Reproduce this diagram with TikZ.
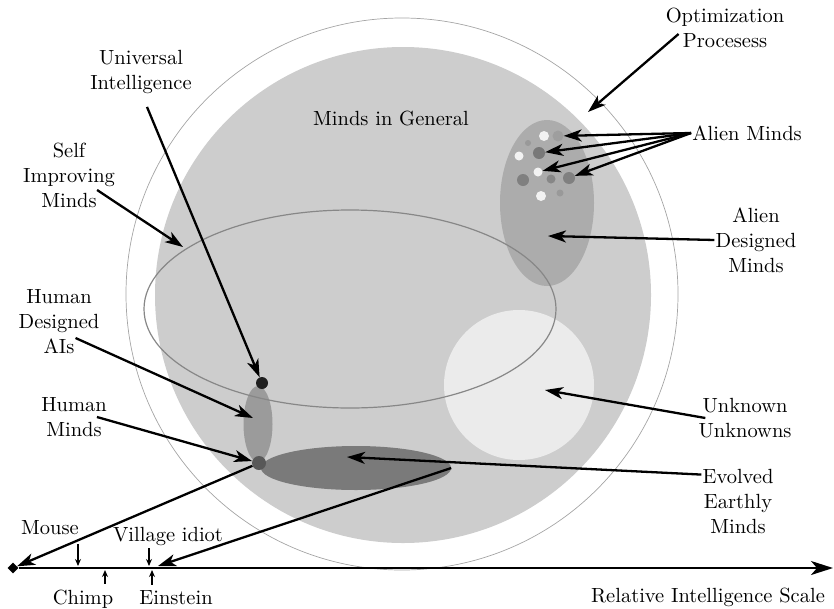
\documentclass[tikz,border=0pt]{standalone}
\usepackage{fontspec}
\setmainfont{lmroman10-regular}[Extension=.otf]
\usepackage{xcolor}
\usepackage{tikz}
\usetikzlibrary{shapes.geometric,arrows.meta,positioning}

\definecolor{ringgray}{RGB}{165,165,165}
\definecolor{diskgray}{RGB}{205,205,205}
\definecolor{aliengray}{RGB}{172,172,172}
\definecolor{unkgray}{RGB}{235,235,235}
\definecolor{aigray}{RGB}{155,155,155}
\definecolor{evogray}{RGB}{122,122,122}
\definecolor{humangray}{RGB}{88,88,88}
\definecolor{selfgray}{RGB}{135,135,135}
\definecolor{spotwhite}{RGB}{242,242,242}

\begin{document}
\begin{tikzpicture}[
    x=1pt, y=-1pt,
    txt/.style={align=center, inner sep=1pt, font=\fontsize{20.5}{25}\selectfont},
    blob/.style={ellipse, inner sep=0pt},
    spot/.style={circle, inner sep=0pt},
    arrow/.style={line width=2.3pt,->,>={Stealth[length=18pt,width=12pt,inset=5pt]}},
    smallarrow/.style={line width=1.4pt,->,>={Stealth[length=7pt,width=6pt]}}
]
    \useasboundingbox (0,0) rectangle (834,608);

    % the two big sets
    \draw[ringgray, line width=0.7pt] (402,294) circle[radius=276pt];
    \fill[diskgray] (403,295) circle[radius=248pt];

    \node[blob, fill=aliengray, minimum width=94pt, minimum height=166pt] (alienset) at (547,203) {};
    \node[blob, fill=unkgray, minimum width=150pt, minimum height=150pt] (unknownset) at (519,385) {};
    \node[blob, fill=aigray, minimum width=29pt, minimum height=76pt] (humanai) at (258,424) {};
    \node[blob, fill=evogray, minimum width=190pt, minimum height=44pt] (evolved) at (356,468) {};
    \node[blob, draw=selfgray, line width=1.2pt, minimum width=412pt, minimum height=198pt] (selfset) at (350,309) {};

    % alien minds
    \node[spot, fill=spotwhite, minimum size=10pt] (sp1) at (544,136) {};
    \node[spot, fill=black!38, minimum size=11pt] (alienA) at (558,136) {};
    \node[spot, fill=black!40, minimum size=6pt] (sp2) at (528,143) {};
    \node[spot, fill=spotwhite, minimum size=9pt] (sp3) at (519,156) {};
    \node[spot, fill=black!53, minimum size=12pt] (alienB) at (539,153) {};
    \node[spot, fill=spotwhite, minimum size=9pt] (alienC) at (538,172) {};
    \node[spot, fill=black!50, minimum size=12pt] (sp4) at (523,180) {};
    \node[spot, fill=black!47, minimum size=9pt] (sp5) at (551,179) {};
    \node[spot, fill=black!50, minimum size=12pt] (alienD) at (569,178) {};
    \node[spot, fill=black!40, minimum size=7pt] (sp6) at (560,193) {};
    \node[spot, fill=spotwhite, minimum size=10pt] (sp7) at (541,196) {};

    \node[spot, fill=black!88, minimum size=12pt] (univ) at (262,383) {};
    \node[spot, fill=humangray, minimum size=14pt] (hmind) at (259,463) {};

    % labels
    \node[txt] (optlabel) at (725,28) {Optimization\\Procesess};
    \node[txt] (generallabel) at (391,118) {Minds in General};
    \node[txt] (univlabel) at (141,72) {Universal\\Intelligence};
    \node[txt] (selflabel) at (69,175) {Self\\Improving\\Minds};
    \node[txt] (ailabel) at (59,322) {Human\\Designed\\AIs};
    \node[txt] (humanlabel) at (74,417) {Human\\Minds};
    \node[txt] (alienlabel) at (747,133) {Alien Minds};
    \node[txt] (adlabel) at (756,240) {Alien\\Designed\\Minds};
    \node[txt] (unklabel) at (745,418) {Unknown\\Unknowns};
    \node[txt] (evolabel) at (738,501) {Evolved\\Earthly\\Minds};

    % intelligence scale
    \node[diamond, fill=black, inner sep=0pt, minimum size=11pt] (origin) at (13,568) {};
    \coordinate (scaleend) at (833,568);
    \draw[line width=2pt,->,>={Stealth[length=22pt,width=14pt,inset=6pt]}] (origin) -- (scaleend);
    \node[txt] (scalelabel) at (708,597) {Relative Intelligence Scale};

    \node[txt] (mouse) at (50,528) {Mouse};
    \node[txt] (idiot) at (168,536) {Village idiot};
    \node[txt] (chimp) at (83,599) {Chimp};
    \node[txt] (einstein) at (176,598) {Einstein};
    \coordinate (mousetick) at (78,566);
    \coordinate (idiottick) at (149,566);
    \coordinate (chimptick) at (105,570);
    \coordinate (einsteintick) at (152,570);
    \draw[smallarrow, shorten <=8pt] (mousetick |- mouse.south) -- (mousetick);
    \draw[smallarrow, shorten <=2pt] (idiottick |- idiot.south) -- (idiottick);
    \draw[smallarrow, shorten <=5pt] (chimptick |- chimp.north) -- (chimptick);
    \draw[smallarrow, shorten <=5pt] (einsteintick |- einstein.north) -- (einsteintick);

    % arrow tips inside the sets
    \coordinate (optpt) at (588,112);
    \coordinate (adpt) at (548,236);
    \coordinate (unkpt) at (545,390);
    \coordinate (evopt) at (347,457);
    \coordinate (selfpt) at (183,247);
    \coordinate (aipt) at (253,418);
    \coordinate (einpt) at (158,566);

    \draw[arrow] ([xshift=14pt,yshift=-6pt]optlabel.west) -- (optpt);
    \draw[arrow] (alienlabel.west) -- (alienA);
    \draw[arrow] (alienlabel.west) -- (alienB);
    \draw[arrow] (alienlabel.west) -- (alienC);
    \draw[arrow] (alienlabel.west) -- (alienD);
    \draw[arrow] (adlabel.west) -- (adpt);
    \draw[arrow] ([xshift=8pt]unklabel.west) -- (unkpt);
    \draw[arrow] ([yshift=-7pt]evolabel.north west) -- (evopt);
    \draw[arrow] ([xshift=6pt,yshift=-12pt]univlabel.south) -- (univ);
    \draw[arrow] ([xshift=-19pt,yshift=-15pt]selflabel.east) -- (selfpt);
    \draw[arrow] ([xshift=-25pt,yshift=-16pt]ailabel.east) -- (aipt);
    \draw[arrow] ([xshift=-11pt]humanlabel.east) -- (hmind);
    \draw[arrow] (hmind) -- (origin);
    \draw[arrow] (evolved.east) -- (einpt);
\end{tikzpicture}
\end{document}
